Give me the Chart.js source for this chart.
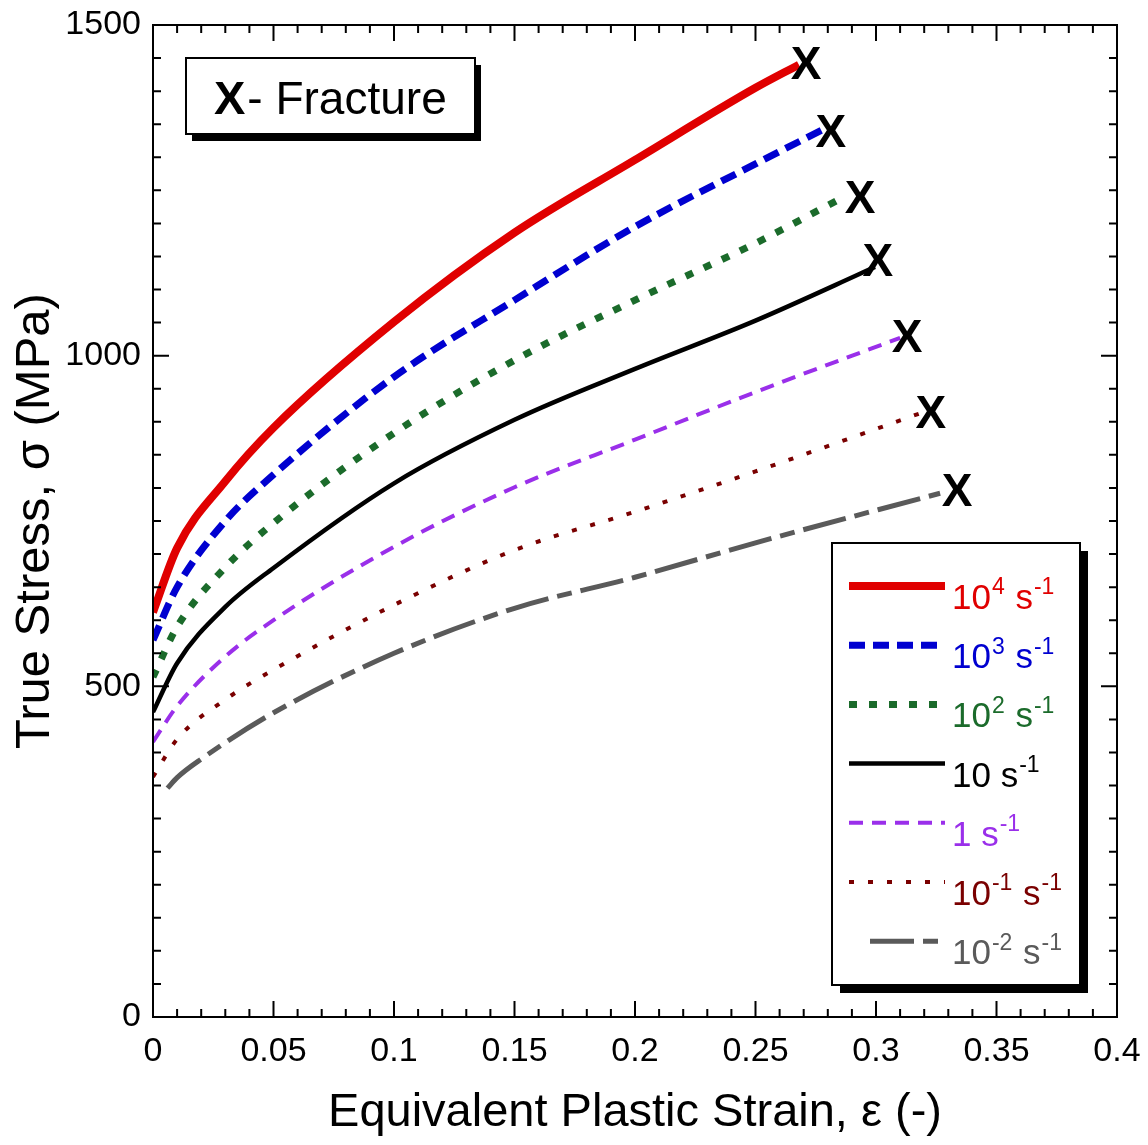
<!DOCTYPE html>
<html>
<head>
<meta charset="utf-8">
<script src="https://cdn.jsdelivr.net/npm/chart.js@4"></script>
<style>
  html, body { margin: 0; padding: 0; background: #fff; overflow: hidden; }
  #wrap { width: 1148px; height: 1145px; }
</style>
</head>
<body>
<div id="wrap"><canvas id="stressChart"></canvas></div>
<script>
// strain rate labels (^ marks a superscript)
const rateLabels = ["10^4 s^-1", "10^3 s^-1", "10^2 s^-1", "10 s^-1", "1 s^-1", "10^-1 s^-1", "10^-2 s^-1"];

// true stress (MPa) vs equivalent plastic strain, one pair per strain rate
const strain1e4 = [0, 0.01, 0.03, 0.05, 0.1, 0.15, 0.2, 0.25, 0.268];
const stress1e4 = [612, 709, 810, 891, 1051, 1186, 1296, 1405, 1440];
const strain1e3 = [0, 0.01, 0.03, 0.05, 0.1, 0.15, 0.2, 0.25, 0.278];
const stress1e3 = [570, 650, 750, 820, 968, 1084, 1195, 1290, 1342];
const strain1e2 = [0, 0.01, 0.03, 0.05, 0.1, 0.15, 0.2, 0.25, 0.284];
const stress1e2 = [514, 590, 680, 747, 883, 993, 1084, 1170, 1235];
const strain1e1 = [0, 0.01, 0.03, 0.05, 0.1, 0.15, 0.2, 0.25, 0.2996];
const stress1e1 = [461, 535, 620, 679, 807, 903, 980, 1053, 1134];
const strain1e0 = [0, 0.01, 0.03, 0.05, 0.1, 0.15, 0.2, 0.25, 0.31];
const stress1e0 = [416, 470, 545, 600, 711, 801, 873, 945, 1027];
const strain1em1 = [0, 0.01, 0.03, 0.05, 0.1, 0.15, 0.2, 0.25, 0.32];
const stress1em1 = [363, 420, 480, 525, 623, 706, 764, 825, 915];
const strain1em2 = [0.006, 0.01, 0.02, 0.05, 0.1, 0.15, 0.2, 0.25, 0.3266];
const stress1em2 = [346, 362, 390, 460, 550, 618, 665, 717, 792];

// fracture marks (X)
const fractureStrain = [0.271, 0.2813, 0.2934, 0.3008, 0.3129, 0.3228, 0.3336];
const fractureStress = [1444, 1341, 1240, 1145, 1030, 915, 797];

const xTicks = [0, 0.05, 0.1, 0.15, 0.2, 0.25, 0.3, 0.35, 0.4];
const yTicks = [0, 500, 1000, 1500];

const FONT = "'Liberation Sans', Arial, Helvetica, sans-serif";

const strains = [strain1e4, strain1e3, strain1e2, strain1e1, strain1e0, strain1em1, strain1em2];
const stresses = [stress1e4, stress1e3, stress1e2, stress1e1, stress1e0, stress1em1, stress1em2];

const styles = [
  { color: "#e00000", width: 8, dash: [] },
  { color: "#0000d0", width: 7, dash: [16, 8] },
  { color: "#1b6b2b", width: 7, dash: [8, 12] },
  { color: "#000000", width: 4.5, dash: [] },
  { color: "#9a2fea", width: 4, dash: [14, 9] },
  { color: "#7a0000", width: 4, dash: [5, 14] },
  { color: "#5a5a5a", width: 5, dash: [44, 9, 15, 9] },
];

const datasets = rateLabels.map((label, i) => ({
  label: label,
  data: strains[i].map((s, k) => ({ x: s, y: stresses[i][k] })),
  borderColor: styles[i].color,
  borderWidth: styles[i].width,
  borderDash: styles[i].dash,
  borderCapStyle: "butt",
  showLine: true,
  fill: false,
  pointRadius: 0,
  cubicInterpolationMode: "monotone",
}));

function drawRichText(ctx, text, x, y, size, color) {
  // split "10^-1 s^-1" into normal and superscript pieces
  const parts = text.split(/\^(-?\d+)/);
  ctx.fillStyle = color;
  ctx.textAlign = "left";
  ctx.textBaseline = "alphabetic";
  let cx = x;
  parts.forEach((p, i) => {
    if (!p) return;
    if (i % 2 === 1) {
      ctx.font = `${Math.round(size * 0.66)}px ${FONT}`;
      ctx.fillText(p, cx + 1, y - size * 0.42);
      cx += 2;
    } else {
      ctx.font = `${size}px ${FONT}`;
      ctx.fillText(p, cx, y);
    }
    cx += ctx.measureText(p).width;
  });
}

const framePlugin = {
  id: "frame",
  afterDatasetsDraw(chart) {
    const ctx = chart.ctx;
    const a = chart.chartArea;
    const xs = chart.scales.x;
    const ys = chart.scales.y;
    ctx.save();
    ctx.strokeStyle = "#000";
    ctx.lineWidth = 2;
    ctx.setLineDash([]);
    ctx.strokeRect(a.left, a.top, a.right - a.left, a.bottom - a.top);

    // inward ticks, all four sides
    ctx.beginPath();
    for (let i = 0; i <= 40; i++) {
      const px = xs.getPixelForValue(i / 100);
      const len = i % 5 === 0 ? 16 : 8;
      ctx.moveTo(px, a.bottom);
      ctx.lineTo(px, a.bottom - len);
      ctx.moveTo(px, a.top);
      ctx.lineTo(px, a.top + len);
    }
    for (let v = 0; v <= 1500; v += 50) {
      const py = ys.getPixelForValue(v);
      const len = v % 500 === 0 ? 16 : 8;
      ctx.moveTo(a.left, py);
      ctx.lineTo(a.left + len, py);
      ctx.moveTo(a.right, py);
      ctx.lineTo(a.right - len, py);
    }
    ctx.stroke();

    // fracture marks
    ctx.fillStyle = "#000";
    ctx.font = `bold 46px ${FONT}`;
    ctx.textAlign = "center";
    ctx.textBaseline = "alphabetic";
    fractureStrain.forEach((s, i) => {
      const px = xs.getPixelForValue(s);
      const py = ys.getPixelForValue(fractureStress[i]);
      ctx.fillText("X", px, py + 16.5);
    });

    // "X- Fracture" note box
    const bx = 186, by = 58, bw = 289, bh = 76;
    ctx.fillStyle = "#000";
    ctx.fillRect(bx + 6, by + 7, bw, bh);
    ctx.fillStyle = "#fff";
    ctx.fillRect(bx, by, bw, bh);
    ctx.strokeRect(bx, by, bw, bh);
    ctx.fillStyle = "#000";
    ctx.textAlign = "left";
    ctx.font = `bold 47px ${FONT}`;
    ctx.fillText("X", 214, 114);
    const w = ctx.measureText("X").width;
    ctx.font = `46px ${FONT}`;
    ctx.fillText("- Fracture", 214 + w + 2, 114);

    // legend box
    const lx = 832, ly = 543, lw = 248, lh = 442;
    ctx.fillStyle = "#000";
    ctx.fillRect(lx + 8, ly + 8, lw, lh);
    ctx.fillStyle = "#fff";
    ctx.fillRect(lx, ly, lw, lh);
    ctx.strokeRect(lx, ly, lw, lh);
    rateLabels.forEach((label, i) => {
      const rowY = 586 + i * 59.2;
      const st = styles[i];
      ctx.strokeStyle = st.color;
      ctx.lineWidth = st.width;
      ctx.setLineDash(st.dash);
      ctx.lineCap = "butt";
      ctx.beginPath();
      const x0 = i === 6 ? 870 : 849;
      ctx.moveTo(x0, rowY);
      ctx.lineTo(945, rowY);
      ctx.stroke();
      ctx.setLineDash([]);
      drawRichText(ctx, label, 952, rowY + 23, 35, st.color);
    });
    ctx.restore();
  },
};

new Chart(document.getElementById("stressChart"), {
  type: "scatter",
  data: { datasets: datasets },
  options: {
    responsive: true,
    maintainAspectRatio: false,
    animation: false,
    layout: { autoPadding: false, padding: { top: 25, right: 31, left: 0, bottom: 0 } },
    plugins: {
      legend: { display: false },
      tooltip: { enabled: false },
    },
    scales: {
      x: {
        type: "linear",
        min: 0,
        max: 0.4,
        afterBuildTicks: (scale) => {
          scale.ticks = xTicks.map((v) => ({ value: v }));
        },
        afterFit: (scale) => {
          scale.height = 128;
          scale.paddingLeft = 0;
          scale.paddingRight = 0;
        },
        grid: { display: false, drawTicks: false },
        border: { display: false },
        ticks: {
          color: "#000",
          font: { family: FONT, size: 34 },
          padding: 14,
          maxRotation: 0,
          callback: (v) => String(Math.round(v * 100) / 100),
        },
        title: {
          display: true,
          text: "Equivalent Plastic Strain, ε (-)",
          color: "#000",
          font: { family: FONT, size: 47 },
          padding: { top: 8 },
        },
      },
      y: {
        type: "linear",
        min: 0,
        max: 1500,
        afterBuildTicks: (scale) => {
          scale.ticks = yTicks.map((v) => ({ value: v }));
        },
        afterFit: (scale) => {
          scale.width = 153;
          scale.paddingTop = 0;
          scale.paddingBottom = 0;
        },
        grid: { display: false, drawTicks: false },
        border: { display: false },
        ticks: {
          color: "#000",
          font: { family: FONT, size: 34 },
          padding: 12,
          callback: (v) => String(v),
        },
        title: {
          display: true,
          text: "True Stress, σ (MPa)",
          color: "#000",
          font: { family: FONT, size: 49 },
          padding: { top: 6, bottom: 0 },
        },
      },
    },
  },
  plugins: [framePlugin],
});
</script>
</body>
</html>
